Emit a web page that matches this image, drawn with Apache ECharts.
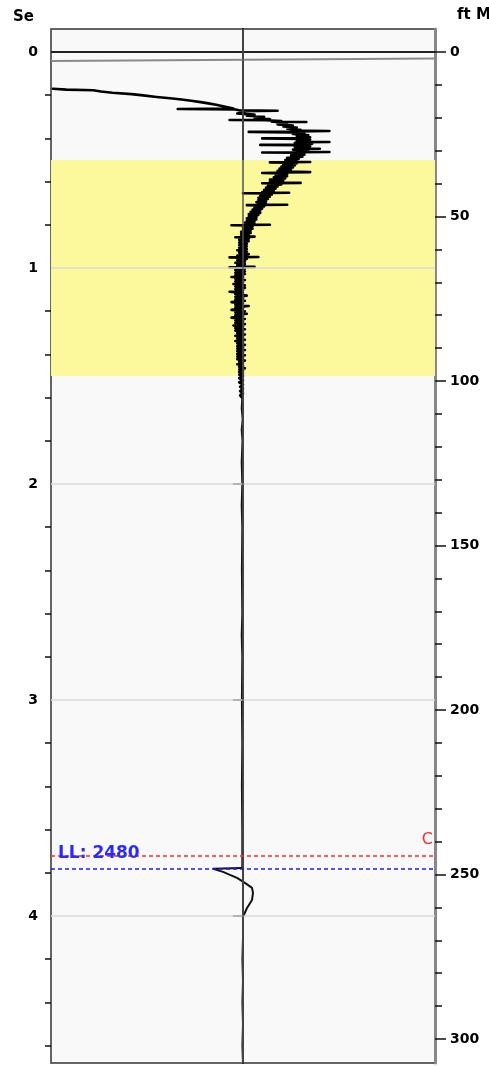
<!DOCTYPE html>
<html><head><meta charset="utf-8">
<script src="https://cdn.jsdelivr.net/npm/echarts@6/dist/echarts.min.js"></script>
<style>html,body{margin:0;padding:0;background:#fff}#c{width:489px;height:1066px}</style>
</head><body><div id="c"></div>
<script>
// ---- data ----
const timeLabels = [0, 1, 2, 3, 4];
const timeMinorTicks = [0.2,0.4,0.6,0.8,1.2,1.4,1.6,1.8,2.2,2.4,2.6,2.8,3.2,3.4,3.6,3.8,4.2,4.4,4.6];
const depthLabels = [0, 50, 100, 150, 200, 250, 300];
const depthMinorTicks = [10,20,30,40,60,70,80,90,110,120,130,140,160,170,180,190,210,220,230,240,260,270,280,290];
const gridTimes = [1, 2, 3, 4];
const zeroTime = 0;
const zoneBand = [0.5, 1.5];
const markerC = 3.716;
const markerLL = 3.784;
const markerLLText = 'LL: 2480';
const markerCText = 'C';
const headLine = [[-100, 0.042], [100, 0.030]];
// trace: [amplitude, time(s)]
const traceTop = [[-99,0.170],[-92,0.174],[-78,0.177],[-74,0.183],[-68,0.189],[-58,0.195],[-52,0.201],[-45,0.208],[-38,0.214],[-32,0.220],[-27,0.226],[-22,0.232],[-18,0.238],[-14,0.244],[-11,0.250],[-8,0.256],[-5,0.262],[-34,0.264],[-4,0.266],[-2,0.270],[18,0.272],[-1,0.274],[1,0.278]];
const traceNoisy = [[2,0.280],[-3,0.285],[6,0.290],[2,0.295],[11,0.300],[6,0.305],[14,0.310],[12,0.314],[-7,0.315],[12,0.316],[20,0.320],[15,0.323],[33,0.324],[17,0.325],[23,0.330],[18,0.335],[26,0.340],[21,0.345],[28,0.350],[23,0.355],[30,0.360],[25,0.364],[45,0.366],[27,0.368],[3,0.370],[25,0.372],[32,0.376],[26,0.380],[34,0.385],[28,0.390],[35,0.395],[30,0.398],[10,0.400],[30,0.402],[35,0.406],[28,0.410],[34,0.414],[31,0.416],[45,0.417],[31,0.418],[27,0.420],[36,0.425],[30,0.428],[9,0.430],[30,0.432],[35,0.436],[27,0.440],[34,0.444],[30,0.447],[40,0.448],[30,0.449],[26,0.452],[34,0.456],[28,0.460],[31,0.462],[45,0.463],[30,0.464],[10,0.465],[29,0.466],[25,0.470],[32,0.475],[25,0.480],[31,0.485],[23,0.490],[29,0.495],[22,0.500],[28,0.505],[25,0.508],[35,0.509],[25,0.510],[14,0.511],[24,0.512],[28,0.516],[21,0.520],[27,0.525],[20,0.530],[26,0.535],[19,0.540],[25,0.545],[18,0.550],[23,0.554],[35,0.556],[21,0.558],[10,0.560],[21,0.562],[23,0.566],[17,0.570],[23,0.575],[16,0.580],[22,0.585],[14,0.590],[21,0.595],[14,0.600],[19,0.604],[30,0.606],[17,0.607],[10,0.608],[17,0.609],[20,0.613],[13,0.618],[18,0.623],[12,0.628],[17,0.633],[11,0.638],[16,0.643],[10,0.648],[14,0.651],[24,0.652],[14,0.653],[0,0.654],[13,0.655],[15,0.660],[9,0.665],[14,0.670],[8,0.675],[13,0.680],[8,0.685],[12,0.690],[7,0.695],[12,0.700],[10,0.706],[23,0.707],[10,0.708],[2,0.709],[9,0.710],[11,0.715],[6,0.720],[10,0.725],[5,0.730],[9,0.735],[4,0.740],[9,0.745],[3,0.750],[8,0.755],[3,0.760],[7,0.765],[2,0.770],[7,0.775],[2,0.780],[6,0.785],[1,0.790],[6,0.795],[3,0.799],[14,0.800],[3,0.801],[-6,0.802],[3,0.803],[5,0.808],[0,0.813],[5,0.818],[0,0.823],[4,0.828],[-1,0.833],[4,0.838],[-1,0.843],[3,0.848],[-1,0.853],[6,0.855],[1,0.857],[-4,0.858],[1,0.859],[3,0.864],[-2,0.870],[3,0.876],[-2,0.882],[2,0.888],[-2,0.894],[2,0.900]];
const traceMid = [[-2,0.906],[2,0.912],[-3,0.918],[2,0.924],[-2,0.930],[3,0.936],[-3,0.942],[1,0.948],[8,0.949],[1,0.950],[-7,0.951],[0,0.952],[2,0.958],[-3,0.964],[1,0.970],[-4,0.976],[1,0.982],[-3,0.988],[0,0.994],[6,0.995],[0,0.996],[-7,0.997],[-1,0.998],[1,1.004],[-4,1.010],[1,1.016],[-4,1.022],[1,1.028],[-4,1.034],[0,1.040],[-6,1.042],[0,1.044],[-4,1.050],[1,1.056],[-4,1.062],[0,1.068],[-5,1.074],[1,1.080],[-4,1.086],[1,1.092],[-4,1.098],[0,1.104],[-7,1.110],[0,1.116],[-4,1.122],[2,1.128],[-4,1.134],[0,1.140],[-4,1.146],[1,1.152],[-6,1.158],[0,1.164],[-4,1.170],[3,1.176],[-4,1.182],[0,1.188],[-6,1.194],[1,1.200],[-4,1.206],[2,1.212],[-4,1.218],[0,1.224],[-6,1.230],[1,1.236],[-4,1.242],[0,1.248],[-4,1.254],[1,1.260],[-5,1.266],[0,1.272],[-4,1.278],[1,1.284],[-4,1.290],[0,1.296],[-3,1.302],[1,1.308],[-4,1.314],[0,1.320],[-3,1.326],[1,1.332],[-4,1.338],[0,1.344],[-3,1.350],[1,1.356],[-3,1.362],[0,1.368],[-3,1.374],[1,1.380],[-3,1.386],[0,1.392],[-3,1.398],[1,1.404],[-3,1.410],[0,1.416],[-3,1.422],[1,1.428],[-2,1.434],[0,1.440],[-3,1.446],[0,1.452],[-2,1.458],[1,1.464],[-2,1.470],[0,1.476],[-2,1.482],[0,1.488],[-2,1.494],[0,1.500],[-2,1.510],[0,1.520],[-2,1.530],[0,1.540],[-1.5,1.550],[0,1.560],[-1.5,1.570],[0,1.580],[-1.5,1.590],[-0.5,1.600]];
const traceLow = [[-0.8,1.65],[-0.3,1.70],[-0.8,1.75],[-0.4,1.80],[-0.8,1.90],[-0.5,2.00],[-0.8,2.10],[-0.5,2.20],[-0.7,2.40],[-0.5,2.60],[-0.8,2.70],[-0.5,2.80],[-0.7,3.00],[-0.5,3.20],[-0.7,3.40],[-0.5,3.60],[-0.5,3.778]];
const traceKink = [[-0.5,3.778],[-15.6,3.782],[-10.4,3.796],[-6.8,3.810],[-3.1,3.824],[1,3.847],[4.7,3.870],[5.2,3.894],[4.7,3.926],[2.1,3.963],[0,4.005],[0,4.10],[-0.3,4.20],[0,4.30],[-0.3,4.40],[0,4.50],[-0.3,4.60],[0,4.68]];

// ---- chart ----
const traceUpper = traceTop.concat(traceNoisy, traceMid);
const traceLower = [traceMid[traceMid.length - 1]].concat(traceLow);
const FONT = 'DejaVu Sans';
const tMin = -0.1065, tMax = 4.681;
const dMin = -6.99, dMax = 307.3;
const chart = echarts.init(document.getElementById('c'), null, {renderer: 'canvas'});
const lbl = {fontFamily: FONT, fontWeight: 'bold', fontSize: 14, color: '#000'};
chart.setOption({
  animation: false,
  backgroundColor: '#ffffff',
  title: [
    {text: 'Se', left: 8, top: 5, textStyle: {fontFamily: FONT, fontWeight: 'bold', fontSize: 15, color: '#000'}},
    {text: 'ft M', left: 452, top: 3, textStyle: {fontFamily: FONT, fontWeight: 'bold', fontSize: 15, color: '#000'}}
  ],
  grid: {left: 51, right: 54, top: 29, bottom: 3, show: true, backgroundColor: '#f9f9f9', borderColor: '#333', borderWidth: 1.5},
  xAxis: {type: 'value', min: -100, max: 100, show: false},
  yAxis: [
    {type: 'value', position: 'left', inverse: true, min: tMin, max: tMax,
     axisLine: {show: true, lineStyle: {color: '#111', width: 2}},
     axisTick: {show: true, length: 10, customValues: timeLabels, lineStyle: {color: '#111', width: 1.5}},
     axisLabel: {show: true, customValues: timeLabels, margin: 13, ...lbl},
     splitLine: {show: false}},
    {type: 'value', position: 'left', inverse: true, min: tMin, max: tMax,
     axisLine: {show: false},
     axisTick: {show: true, length: 6, customValues: timeMinorTicks, lineStyle: {color: '#111', width: 1.5}},
     axisLabel: {show: false}, splitLine: {show: false}},
    {type: 'value', position: 'right', inverse: true, min: dMin, max: dMax,
     axisLine: {show: true, lineStyle: {color: '#888', width: 3}},
     axisTick: {show: true, length: 11, customValues: depthLabels, lineStyle: {color: '#111', width: 1.5}},
     axisLabel: {show: true, customValues: depthLabels, margin: 15, ...lbl},
     splitLine: {show: false}},
    {type: 'value', position: 'right', inverse: true, min: dMin, max: dMax,
     axisLine: {show: false},
     axisTick: {show: true, length: 7, customValues: depthMinorTicks, lineStyle: {color: '#111', width: 1.5}},
     axisLabel: {show: false}, splitLine: {show: false}}
  ],
  series: [
    {name: 'band', type: 'line', data: [], z: 0, silent: true,
     markArea: {silent: true, itemStyle: {color: '#fbf99b'},
       data: [[{yAxis: zoneBand[0]}, {yAxis: zoneBand[1]}]]}},
    {name: 'guides', type: 'line', data: [], z: 1, silent: true,
     markLine: {silent: true, symbol: 'none', label: {show: false},
       data: gridTimes.map(v => ({yAxis: v, lineStyle: {color: '#d8d8d8', width: 1.5, type: 'solid'}}))
         .concat([{yAxis: zeroTime, lineStyle: {color: '#222', width: 2, type: 'solid'}},
                  {xAxis: 0, lineStyle: {color: '#555', width: 1.5, type: 'solid'}}])}},
    {name: 'head', type: 'line', data: headLine, z: 2, showSymbol: false, silent: true,
     lineStyle: {color: '#8a8a8a', width: 2}},
    {name: 'traceUpper', type: 'line', data: traceUpper, z: 3, showSymbol: false, silent: true, sampling: null,
     lineStyle: {color: '#000', width: 2.6, join: 'round', cap: 'round'}},
    {name: 'traceLower', type: 'line', data: traceLower, z: 3, showSymbol: false, silent: true, sampling: null,
     lineStyle: {color: '#111', width: 1.5}},
    {name: 'traceKink', type: 'line', data: traceKink, z: 3, showSymbol: false, silent: true, sampling: null,
     lineStyle: {color: '#111', width: 2}},
    {name: 'markers', type: 'line', data: [], z: 4, silent: true,
     markLine: {silent: true, symbol: 'none',
       data: [
         {yAxis: markerC, lineStyle: {color: '#ff2a2a', width: 1.5, type: [4, 3]},
          label: {show: true, position: 'insideEndTop', formatter: markerCText, distance: [2, 8], color: '#ff2a2a', fontFamily: FONT, fontSize: 16}},
         {yAxis: markerLL, lineStyle: {color: '#1a1aff', width: 1.5, type: [4, 3]},
          label: {show: true, position: 'insideStartTop', formatter: markerLLText, distance: [7, 6], color: '#2a2aff', fontFamily: FONT, fontWeight: 'bold', fontSize: 17}}
       ]}}
  ]
});
</script></body></html>
